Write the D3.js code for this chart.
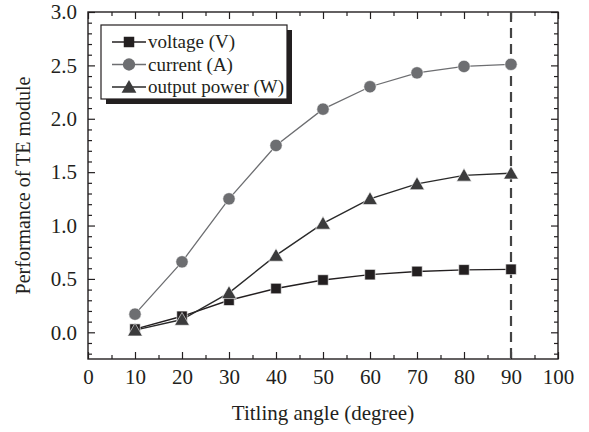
<!DOCTYPE html>
<html>
<head>
<meta charset="utf-8">
<script src="https://cdn.jsdelivr.net/npm/d3@7"></script>
<style>
  body { margin: 0; background: #fff; }
  text { font-family: "Liberation Serif", "Times New Roman", serif; fill: #231f20; }
</style>
</head>
<body>
<div id="chart"></div>
<script>
// data
const angles = [10, 20, 30, 40, 50, 60, 70, 80, 90];
const voltage = [0.03, 0.15, 0.30, 0.41, 0.49, 0.54, 0.57, 0.585, 0.59];
const current = [0.17, 0.66, 1.25, 1.75, 2.09, 2.30, 2.43, 2.49, 2.51];
const power = [0.02, 0.12, 0.37, 0.72, 1.02, 1.25, 1.39, 1.47, 1.49];
const xTicks = [0, 10, 20, 30, 40, 50, 60, 70, 80, 90, 100];
const yTicks = [0.0, 0.5, 1.0, 1.5, 2.0, 2.5, 3.0];
const dashedAt = 90;

const width = 589, height = 432;
const margin = { top: 12, right: 31, bottom: 73, left: 88 };
const iw = width - margin.left - margin.right;
const ih = height - margin.top - margin.bottom;

const svg = d3.select("#chart").append("svg")
    .attr("width", width)
    .attr("height", height);

const g = svg.append("g")
    .attr("transform", "translate(" + margin.left + "," + margin.top + ")");

const x = d3.scaleLinear().domain([0, 100]).range([0, iw]);
const y = d3.scaleLinear().domain([-0.25, 3.0]).range([ih, 0]);

// minor ticks
const xMinor = d3.range(5, 100, 10);
const yMinor = d3.range(-0.2, 3.0, 0.1).filter(v => Math.abs(Math.round(v * 2) - v * 2) > 0.01);

function styleAxis(sel) {
    sel.select(".domain").remove();
    sel.selectAll("line").attr("stroke", "#231f20").attr("stroke-width", 1.2);
}

// bottom
g.append("g").attr("transform", "translate(0," + ih + ")")
    .call(d3.axisBottom(x).tickValues(xTicks).tickSize(-7).tickPadding(10).tickFormat(d3.format("d")))
    .call(styleAxis)
    .selectAll("text").attr("font-size", 21);
g.append("g").attr("transform", "translate(0," + ih + ")")
    .call(d3.axisBottom(x).tickValues(xMinor).tickSize(-4).tickFormat(""))
    .call(styleAxis);
// top
g.append("g")
    .call(d3.axisTop(x).tickValues(xTicks).tickSize(-7).tickFormat(""))
    .call(styleAxis);
g.append("g")
    .call(d3.axisTop(x).tickValues(xMinor).tickSize(-4).tickFormat(""))
    .call(styleAxis);
// left
g.append("g")
    .call(d3.axisLeft(y).tickValues(yTicks).tickSize(-7).tickPadding(11).tickFormat(d3.format(".1f")))
    .call(styleAxis)
    .selectAll("text").attr("font-size", 21);
g.append("g")
    .call(d3.axisLeft(y).tickValues(yMinor).tickSize(-4).tickFormat(""))
    .call(styleAxis);
// right
g.append("g").attr("transform", "translate(" + iw + ",0)")
    .call(d3.axisRight(y).tickValues(yTicks).tickSize(-7).tickFormat(""))
    .call(styleAxis);
g.append("g").attr("transform", "translate(" + iw + ",0)")
    .call(d3.axisRight(y).tickValues(yMinor).tickSize(-4).tickFormat(""))
    .call(styleAxis);

// frame
g.append("rect")
    .attr("width", iw).attr("height", ih)
    .attr("fill", "none").attr("stroke", "#231f20").attr("stroke-width", 1.4);

// dashed line at 90 degrees
g.append("line")
    .attr("x1", x(dashedAt)).attr("x2", x(dashedAt))
    .attr("y1", 0).attr("y2", ih)
    .attr("stroke", "#444").attr("stroke-width", 2.2)
    .attr("stroke-dasharray", "10,6");

const series = [
    { name: "voltage (V)", values: voltage, shape: d3.symbolSquare, size: 110, color: "#231f20", line: "#231f20", lw: 1.4 },
    { name: "current (A)", values: current, shape: d3.symbolCircle, size: 120, color: "#6d6e71", line: "#6d6e71", lw: 1.3 },
    { name: "output power (W)", values: power, shape: d3.symbolTriangle, size: 95, color: "#3b3b3c", line: "#2a2a2a", lw: 1.4 }
];

const line = d3.line().x((d, i) => x(angles[i])).y(d => y(d));

// draw lines first, then markers
series.forEach(s => {
    g.append("path").datum(s.values)
        .attr("d", line)
        .attr("fill", "none")
        .attr("stroke", s.line)
        .attr("stroke-width", s.lw);
});
series.forEach(s => {
    g.selectAll(null).data(s.values).enter()
        .append("path")
        .attr("d", d3.symbol().type(s.shape).size(s.size))
        .attr("transform", (d, i) => "translate(" + x(angles[i]) + "," + (y(d) + (s.shape === d3.symbolTriangle ? 1.5 : 0)) + ")")
        .attr("fill", s.color)
        .attr("stroke", "#fff")
        .attr("stroke-width", 0.6);
});

// legend
const lg = svg.append("g").attr("transform", "translate(101,25)");
lg.append("rect").attr("x", 5).attr("y", 5).attr("width", 186).attr("height", 74).attr("fill", "#231f20");
lg.append("rect").attr("width", 186).attr("height", 74).attr("fill", "#fff").attr("stroke", "#231f20").attr("stroke-width", 1.2);
series.forEach((s, i) => {
    const yy = 17 + i * 22.5;
    lg.append("line").attr("x1", 11).attr("x2", 45).attr("y1", yy).attr("y2", yy)
        .attr("stroke", s.line).attr("stroke-width", s.lw);
    lg.append("path")
        .attr("d", d3.symbol().type(s.shape).size(s.size))
        .attr("transform", "translate(28," + (yy + (s.shape === d3.symbolTriangle ? 1.5 : 0)) + ")")
        .attr("fill", s.color);
    lg.append("text").attr("x", 47).attr("y", yy + 6)
        .attr("font-size", 19)
        .text(s.name);
});

// axis titles
svg.append("text")
    .attr("x", margin.left + iw / 2).attr("y", 420)
    .attr("text-anchor", "middle").attr("font-size", 21)
    .text("Titling angle (degree)");
svg.append("text")
    .attr("transform", "translate(30," + (margin.top + ih / 2) + ") rotate(-90)")
    .attr("text-anchor", "middle").attr("font-size", 20)
    .text("Performance of TE module");
</script>
</body>
</html>
